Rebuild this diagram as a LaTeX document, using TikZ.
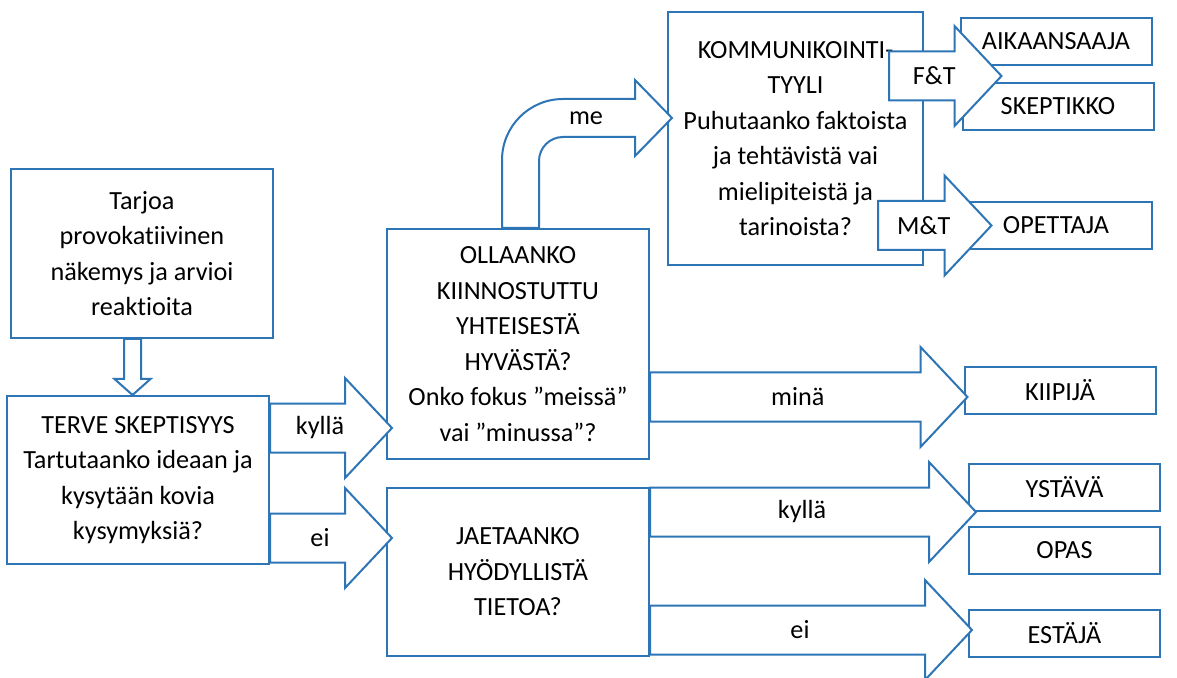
\documentclass[tikz,border=0pt]{standalone}
\usepackage{fontspec}
\setmainfont{Carlito}[Ligatures=NoCommon]
\usepackage{tikz}
\usetikzlibrary{calc}
\definecolor{boxblue}{RGB}{46,117,182}
\newcommand{\newBox}[4]{\node[#3](#1) at (#4) {#2};}
\newcommand{\newArrow}[3]{\draw[blockarrow] let \p1=(#1), \p2=(#2) in
    (\x1,\y1+12.25pt) -- (\x2-23.5pt,\y1+12.25pt) -- (\x2-23.5pt,\y1+25pt) -- (\x2,\y1)
    -- (\x2-23.5pt,\y1-25pt) -- (\x2-23.5pt,\y1-12.25pt) -- (\x1,\y1-12.25pt) -- cycle
    (0.5*\x1+0.5*\x2-5.5pt,\y1) node {#3};}

\begin{document}
\begin{tikzpicture}[
    % Grid of the reference, y pointing down
    x=0.5pt, y=-0.5pt,
    % Default text
    font=\fontsize{13.1}{17.75}\selectfont,
    box/.style={draw=boxblue, line width=1pt, fill=white, align=center, inner sep=0pt},
    bigbox/.style={box, minimum width=131pt, minimum height=84pt},
    smallbox/.style={box, minimum width=95.5pt, minimum height=23.5pt},
    blockarrow/.style={draw=boxblue, line width=1pt, fill=white, line join=miter}
    ]
    \path[use as bounding box, fill=white] (0,0) rectangle (1177,678);

    \newBox{tarjoa}{Tarjoa\\provokatiivinen\\näkemys ja arvioi\\reaktioita}{bigbox, minimum height=84.5pt}{142,253.5}
    \newBox{terve}{TERVE SKEPTISYYS\\Tartutaanko ideaan ja\\kysytään kovia\\kysymyksiä?}{bigbox}{138,480}
    \newBox{ollaanko}{OLLAANKO\\KIINNOSTUTTU\\YHTEISESTÄ\\HYVÄSTÄ?\\Onko fokus ”meissä”\\vai ”minussa”?}{bigbox, minimum height=115pt}{518,344}
    \newBox{jaetaanko}{JAETAANKO\\HYÖDYLLISTÄ\\TIETOA?}{bigbox}{518,572}
    \newBox{komm}{KOMMUNIKOINTI-\\TYYLI\\Puhutaanko faktoista\\ja tehtävistä vai\\mielipiteistä ja\\tarinoista?}{bigbox, minimum width=127.5pt, minimum height=126.5pt}{795.5,138.5}
    \newBox{aika}{AIKAANSAAJA}{smallbox}{1056,41.5}
    \newBox{skep}{SKEPTIKKO}{smallbox}{1058,106.5}
    \newBox{opettaja}{OPETTAJA}{smallbox}{1056,225.5}
    \newBox{kiipija}{KIIPIJÄ}{smallbox}{1060,390.5}
    \newBox{ystava}{YSTÄVÄ}{smallbox}{1064.5,487}
    \newBox{opas}{OPAS}{smallbox}{1064.5,550}
    \newBox{estaja}{ESTÄJÄ}{smallbox}{1064.5,633}

    % down arrow
    \draw[blockarrow] let \p1=($(tarjoa.south)+(-9.5,0)$), \p2=(terve.north) in
      (\x1-4.25pt,\y1) -- (\x1-4.25pt,\y2+8pt) -- (\x1-9pt,\y2+8pt) -- (\x1,\y2)
      -- (\x1+9pt,\y2+8pt) -- (\x1+4.25pt,\y2+8pt) -- (\x1+4.25pt,\y1) -- cycle;

    % bent arrow up to the style box
    \draw[blockarrow] let \p1=(ollaanko.north), \p2=(komm.west), \p3=($(komm.west)+(0,-20.5)$) in
      (\x1-8pt,\y1) -- (\x1-8pt,\y3-21pt) arc (180:90:30.5pt) -- (\x2-16pt,\y3+9.5pt)
      -- (\x2-16pt,\y3+19pt) -- (\x2+2.5pt,\y3) -- (\x2-16pt,\y3-19pt) -- (\x2-16pt,\y3-9.5pt)
      -- (\x1+22.5pt,\y3-9.5pt) arc (90:180:12pt) -- (\x1+10.5pt,\y1) -- cycle
      (\x2-40.5pt,\y3) node {me};

    \newArrow{$(terve.east)+(0,-52)$}{$(ollaanko.west)+(6,0)$}{kyllä}
    \newArrow{$(terve.east)+(0,58)$}{$(jaetaanko.west)+(6,0)$}{ei}
    \newArrow{$(ollaanko.east)+(0,53)$}{$(kiipija.west)+(4,0)$}{minä}
    \newArrow{$(jaetaanko.east)+(0,-60)$}{$(ystava.south west)+(8,0)$}{kyllä}
    \newArrow{$(jaetaanko.east)+(0,58)$}{$(estaja.west)+(4,0)$}{ei}
    \newArrow{$(komm.east)+(-35,-62.5)$}{$(aika.south west)!0.5!(skep.north west)+(41,0)$}{F\&T}
    \newArrow{$(komm.east)+(-46,87)$}{$(opettaja.west)+(32,0)$}{M\&T}
  \end{tikzpicture}
\end{document}
